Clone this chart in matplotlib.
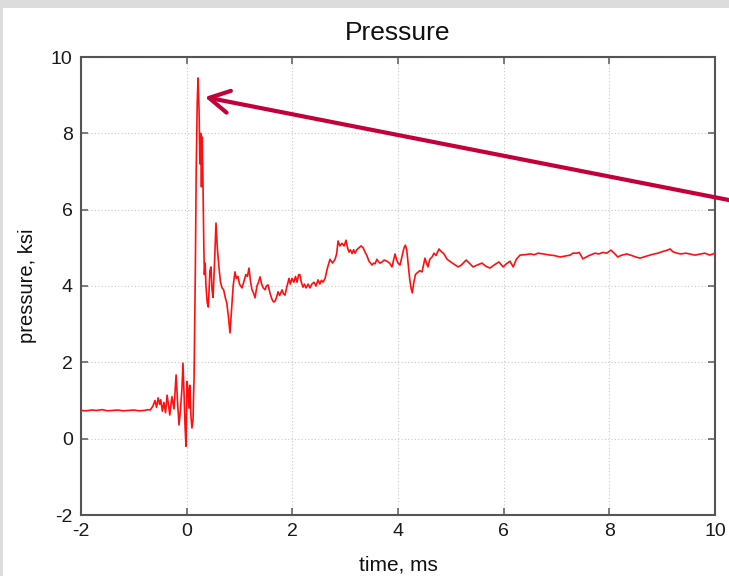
import matplotlib
matplotlib.use("Agg")
import matplotlib.pyplot as plt
from matplotlib.patches import Rectangle

# Pressure trace (time in ms, pressure in ksi)
time_ms = [
    -2.00, -1.90, -1.80, -1.70, -1.60, -1.50, -1.40, -1.30, -1.20, -1.10,
    -1.00, -0.90, -0.80, -0.72, -0.69, -0.64, -0.60, -0.57, -0.54, -0.51,
    -0.49, -0.46, -0.43, -0.40, -0.37, -0.34, -0.32, -0.28, -0.24, -0.20,
    -0.17, -0.145, -0.12, -0.09, -0.07, -0.05, -0.03, -0.013, 0.006, 0.025,
    0.044, 0.06, 0.08, 0.10, 0.12, 0.14, 0.165, 0.18, 0.20, 0.215,
    0.235, 0.25, 0.265, 0.28, 0.295, 0.31, 0.325, 0.335, 0.35, 0.365,
    0.39, 0.41, 0.44, 0.46, 0.48, 0.50, 0.53, 0.555, 0.58, 0.61,
    0.64, 0.67, 0.70, 0.73, 0.76, 0.79, 0.82, 0.85, 0.88, 0.915,
    0.94, 0.97, 1.00, 1.047, 1.08, 1.12, 1.15, 1.18, 1.21, 1.237,
    1.27, 1.294, 1.33, 1.36, 1.388, 1.42, 1.45, 1.483, 1.51, 1.54,
    1.58, 1.615, 1.645, 1.672, 1.70, 1.73, 1.76, 1.805, 1.83, 1.861,
    1.90, 1.937, 1.96, 1.994, 2.03, 2.06, 2.089, 2.12, 2.145, 2.17,
    2.202, 2.23, 2.26, 2.30, 2.335, 2.37, 2.41, 2.45, 2.486, 2.52,
    2.55, 2.581, 2.62, 2.66, 2.713, 2.76, 2.808, 2.84, 2.865, 2.90,
    2.94, 2.98, 3.016, 3.045, 3.073, 3.10, 3.13, 3.16, 3.186, 3.22,
    3.26, 3.30, 3.34, 3.376, 3.41, 3.451, 3.48, 3.508, 3.54, 3.565,
    3.60, 3.622, 3.66, 3.698, 3.74, 3.792, 3.84, 3.887, 3.92, 3.944,
    3.97, 4.00, 4.038, 4.08, 4.114, 4.14, 4.165, 4.19, 4.22, 4.246,
    4.27, 4.30, 4.33, 4.36, 4.41, 4.455, 4.49, 4.511, 4.54, 4.568,
    4.60, 4.644, 4.682, 4.72, 4.776, 4.82, 4.86, 4.93, 4.98, 5.05,
    5.14, 5.20, 5.29, 5.35, 5.42, 5.50, 5.59, 5.66, 5.74, 5.82,
    5.91, 5.99, 6.05, 6.12, 6.18, 6.24, 6.31, 6.40, 6.50, 6.58,
    6.65, 6.75, 6.88, 6.95, 7.07, 7.15, 7.26, 7.31, 7.39, 7.43,
    7.50, 7.55, 7.62, 7.73, 7.80, 7.88, 7.95, 8.03, 8.10, 8.16,
    8.22, 8.33, 8.40, 8.50, 8.58, 8.65, 8.77, 8.85, 8.92, 9.00,
    9.08, 9.15, 9.20, 9.28, 9.35, 9.45, 9.52, 9.62, 9.70, 9.81,
    9.90, 10.00,
]
pressure_ksi = [
    0.74, 0.73, 0.75, 0.74, 0.76, 0.73, 0.74, 0.75, 0.73, 0.74,
    0.75, 0.73, 0.74, 0.76, 0.75, 0.85, 1.00, 0.82, 1.07, 0.90,
    1.02, 0.72, 0.95, 0.68, 1.14, 0.85, 0.62, 1.10, 0.78, 1.67,
    0.90, 0.36, 0.70, 1.30, 1.98, 1.20, 0.30, -0.20, 1.50, 1.30,
    0.80, 1.40, 0.60, 0.28, 0.50, 1.60, 4.50, 7.00, 8.80, 9.45,
    8.60, 7.20, 8.00, 6.60, 7.90, 6.57, 5.00, 4.30, 4.60, 4.00,
    3.55, 3.45, 4.40, 4.50, 3.90, 3.70, 4.70, 5.65, 5.00, 4.50,
    4.10, 3.95, 3.90, 3.70, 3.55, 3.20, 2.77, 3.40, 4.00, 4.37,
    4.20, 4.25, 4.05, 3.95, 4.10, 4.30, 4.25, 4.47, 4.10, 3.90,
    3.80, 3.69, 4.00, 4.10, 4.24, 4.05, 3.95, 3.90, 4.00, 4.03,
    3.80, 3.65, 3.58, 3.60, 3.70, 3.85, 3.75, 3.90, 3.80, 3.76,
    4.00, 4.20, 4.05, 4.20, 4.10, 4.25, 4.10, 4.30, 4.29, 4.10,
    3.97, 4.05, 3.95, 4.05, 3.95, 4.05, 4.10, 4.00, 4.16, 4.05,
    4.15, 4.10, 4.20, 4.45, 4.70, 4.60, 4.70, 4.85, 5.18, 5.05,
    5.12, 5.05, 5.20, 5.00, 4.89, 4.95, 4.85, 4.95, 4.86, 4.95,
    5.00, 5.05, 5.00, 4.89, 4.80, 4.65, 4.60, 4.55, 4.60, 4.58,
    4.70, 4.65, 4.60, 4.63, 4.68, 4.65, 4.60, 4.50, 4.70, 4.84,
    4.70, 4.60, 4.55, 4.80, 5.00, 5.07, 4.95, 4.60, 4.20, 3.95,
    3.82, 4.10, 4.30, 4.34, 4.40, 4.37, 4.60, 4.73, 4.60, 4.50,
    4.70, 4.76, 4.86, 4.80, 4.97, 4.90, 4.86, 4.70, 4.65, 4.58,
    4.50, 4.55, 4.68, 4.60, 4.50, 4.55, 4.60, 4.52, 4.47, 4.55,
    4.63, 4.50, 4.58, 4.65, 4.50, 4.70, 4.81, 4.82, 4.84, 4.82,
    4.86, 4.84, 4.81, 4.80, 4.76, 4.78, 4.81, 4.86, 4.86, 4.88,
    4.71, 4.75, 4.80, 4.86, 4.84, 4.88, 4.86, 4.94, 4.85, 4.76,
    4.80, 4.84, 4.81, 4.76, 4.73, 4.76, 4.81, 4.84, 4.86, 4.90,
    4.93, 4.97, 4.90, 4.86, 4.84, 4.86, 4.84, 4.81, 4.83, 4.86,
    4.81, 4.86,
]

x_ticks = [-2, 0, 2, 4, 6, 8, 10]
y_ticks = [-2, 0, 2, 4, 6, 8, 10]

plt.rcParams["font.family"] = ["Liberation Sans", "DejaVu Sans"]
plt.rcParams["axes.unicode_minus"] = False

fig = plt.figure(figsize=(7.29, 5.76), dpi=100, facecolor="#dcdcdc")
# white page area inside the grey frame
page = Rectangle((3 / 729, 0), 1, 568 / 576, transform=fig.transFigure,
                 facecolor="white", edgecolor="none", zorder=-10)
fig.add_artist(page)

ax = fig.add_axes([81 / 729, 61 / 576, 634 / 729, 458 / 576])
ax.set_zorder(1)
ax.set_facecolor("white")
ax.plot(time_ms, pressure_ksi, color="#ff1010", lw=1.2, zorder=3)

ax.set_xlim(-2, 10)
ax.set_ylim(-2, 10)
ax.set_xticks(x_ticks)
ax.set_yticks(y_ticks)
ax.grid(True, linestyle=(0, (1, 2)), color="#c8c8c8", lw=0.8)
ax.tick_params(direction="in", length=5, width=1.2, color="#666666",
               top=True, right=True, labelsize=14, labelcolor="#1a1a1a", pad=6)
for s in ax.spines.values():
    s.set_color("#555555")
    s.set_linewidth(1.5)

ax.set_title("Pressure", fontsize=19, color="#111111", pad=12)
ax.set_xlabel("time, ms", fontsize=15, color="#111111", labelpad=11)
ax.set_ylabel("pressure, ksi", fontsize=14.5, color="#111111", labelpad=10)

# arrow pointing at the peak
peak_i = pressure_ksi.index(max(pressure_ksi))
ax.annotate("", xy=(time_ms[peak_i] + 0.13, pressure_ksi[peak_i] - 0.5),
            xytext=(800, 576 - 214), textcoords="figure pixels",
            annotation_clip=False,
            arrowprops=dict(arrowstyle="->,head_length=0.9,head_width=0.5",
                            color="#c4003a", lw=3, shrinkA=0, shrinkB=0,
                            mutation_scale=16),
            zorder=5)

fig.savefig("out.png", dpi=100, facecolor=fig.get_facecolor())
